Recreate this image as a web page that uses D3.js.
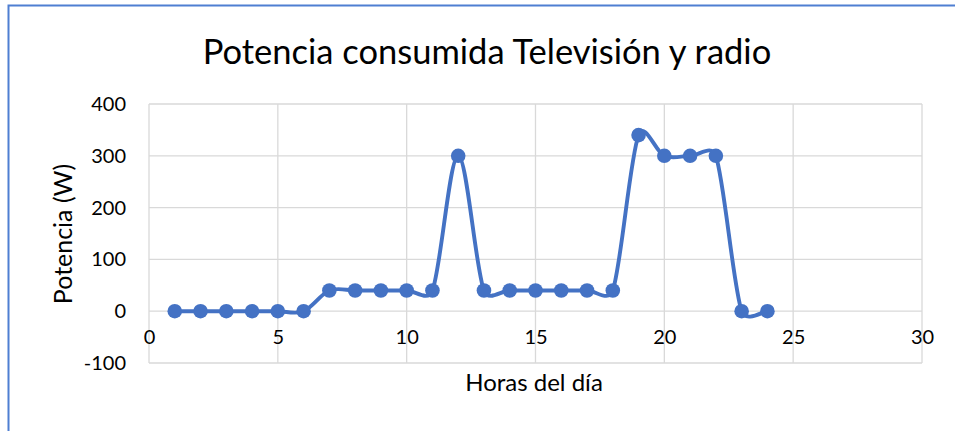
<!DOCTYPE html>
<html><head><meta charset="utf-8">
<script src="https://cdn.jsdelivr.net/npm/d3@7"></script>
<style>body{margin:0;background:#fff}svg{display:block}text{font-family:Lato,"Open Sans",sans-serif;fill:#000}</style>
</head><body>
<script>
const hours = [1,2,3,4,5,6,7,8,9,10,11,12,13,14,15,16,17,18,19,20,21,22,23,24];
const power = [0,0,0,0,0,0,40,40,40,40,40,300,40,40,40,40,40,40,340,300,300,300,0,0];
const xTicks = [0,5,10,15,20,25,30];
const yTicks = [-100,0,100,200,300,400];
const title = "Potencia consumida Televisión y radio";
const xTitle = "Horas del día";
const yTitle = "Potencia (W)";

const W = 955, H = 431;
const svg = d3.select("body").append("svg").attr("width", W).attr("height", H);

svg.append("path").attr("d", `M8.5,${H} V5.5 H${W}`).attr("fill","none")
  .attr("stroke","#4f7fd2").attr("stroke-width",2);

const x = d3.scaleLinear().domain([0,30]).range([149,922]);
const y = d3.scaleLinear().domain([-100,400]).range([363,104]);

const g = svg.append("g");
g.selectAll(".hg").data(yTicks).enter().append("line")
  .attr("x1", x(0)).attr("x2", x(30)).attr("y1", d=>y(d)).attr("y2", d=>y(d))
  .attr("stroke", "#d9d9d9").attr("stroke-width", 1.3);
g.selectAll(".vg").data(xTicks).enter().append("line")
  .attr("y1", y(-100)).attr("y2", y(400)).attr("x1", d=>x(d)).attr("x2", d=>x(d))
  .attr("stroke", "#d9d9d9").attr("stroke-width", 1.3);

const yAxis = svg.append("g").attr("transform", `translate(${x(0)},0)`)
  .call(d3.axisLeft(y).tickValues(yTicks).tickSize(0).tickPadding(23).tickFormat(d=>String(d)));
yAxis.select(".domain").remove();
yAxis.selectAll("text").attr("font-size", 20).attr("font-family","Lato, sans-serif").attr("fill","#000");

const xAxis = svg.append("g").attr("transform", `translate(0,${y(0)})`)
  .call(d3.axisBottom(x).tickValues(xTicks).tickSize(0).tickPadding(19).tickFormat(d=>String(d)));
xAxis.select(".domain").remove();
xAxis.selectAll("text").attr("font-size", 20).attr("font-family","Lato, sans-serif").attr("fill","#000");

// Excel-style smoothed line (Bezier with limited control arms)
const pts = power.map((d,i)=>[x(hours[i]), y(d)]);
const dist = (a,b)=>Math.hypot(a[0]-b[0], a[1]-b[1]);
const path = d3.path();
path.moveTo(pts[0][0], pts[0][1]);
for (let i=0;i<pts.length-1;i++){
  const p1=pts[i], p2=pts[i+1];
  const p0 = i>0 ? pts[i-1] : p1;
  const p3 = i<pts.length-2 ? pts[i+2] : p2;
  const d12=dist(p1,p2), d02=dist(p0,p2), d13=dist(p1,p3);
  let f=1/6, gg=1/6;
  if (d02/6 >= d12/2) f = d12/(2*d02);
  if (d13/6 >= d12/2) gg = d12/(2*d13);
  const b1=[p1[0]+(p2[0]-p0[0])*f, p1[1]+(p2[1]-p0[1])*f];
  const b2=[p2[0]-(p3[0]-p1[0])*gg, p2[1]-(p3[1]-p1[1])*gg];
  path.bezierCurveTo(b1[0],b1[1],b2[0],b2[1],p2[0],p2[1]);
}
svg.append("path").attr("d", path.toString()).attr("fill","none")
  .attr("stroke","#4472c4").attr("stroke-width",3.9).attr("stroke-linejoin","round");
svg.selectAll(".pt").data(power).enter().append("circle")
  .attr("cx",(d,i)=>x(hours[i])).attr("cy",d=>y(d)).attr("r",7.3).attr("fill","#4472c4");

svg.append("text").attr("x", 487).attr("y", 64).attr("text-anchor","middle")
  .attr("font-size", 34.5).text(title);
svg.append("text").attr("x", 534).attr("y", 391).attr("text-anchor","middle")
  .attr("font-size", 24).text(xTitle);
svg.append("text").attr("transform","translate(72,234) rotate(-90)").attr("text-anchor","middle")
  .attr("font-size", 25).text(yTitle);
</script>
</body></html>
